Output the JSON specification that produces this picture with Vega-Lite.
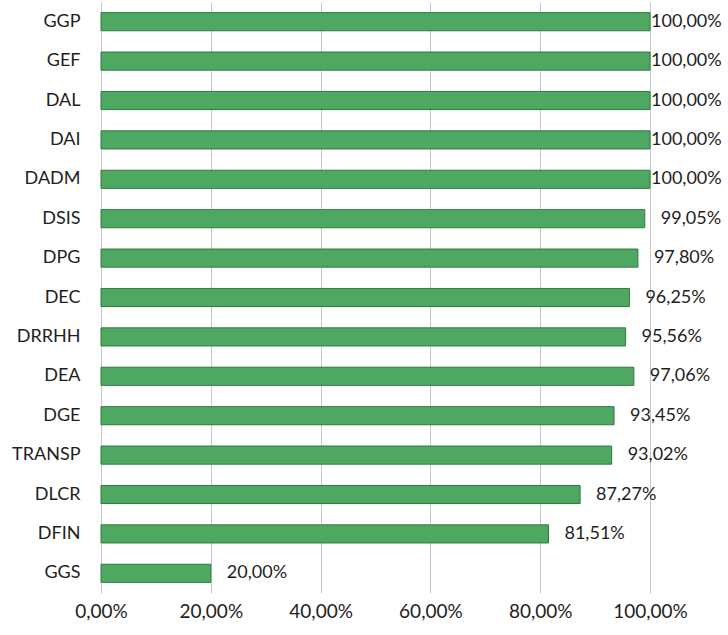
{
  "$schema": "https://vega.github.io/schema/vega-lite/v6.json",
  "width": 549,
  "height": 591,
  "autosize": {"type": "none"},
  "padding": {"left": 101, "top": 2, "right": 78, "bottom": 42},
  "background": "white",
  "config": {
    "view": {"stroke": null},
    "font": "Lato",
    "axis": {"labelFont": "Lato", "labelColor": "#1e1e1e"}
  },
  "data": {
    "values": [
      {"cat": "GGP", "v": 100},
      {"cat": "GEF", "v": 100},
      {"cat": "DAL", "v": 100},
      {"cat": "DAI", "v": 100},
      {"cat": "DADM", "v": 100},
      {"cat": "DSIS", "v": 99.05},
      {"cat": "DPG", "v": 97.8},
      {"cat": "DEC", "v": 96.25},
      {"cat": "DRRHH", "v": 95.56},
      {"cat": "DEA", "v": 97.06},
      {"cat": "DGE", "v": 93.45},
      {"cat": "TRANSP", "v": 93.02},
      {"cat": "DLCR", "v": 87.27},
      {"cat": "DFIN", "v": 81.51},
      {"cat": "GGS", "v": 20}
    ]
  },
  "encoding": {
    "y": {
      "field": "cat", "type": "nominal", "sort": null, "title": null,
      "scale": {"paddingInner": 0, "paddingOuter": 0},
      "axis": {"domain": false, "ticks": false, "labelFontSize": 18, "labelPadding": 21}
    },
    "x": {
      "field": "v", "type": "quantitative", "title": null,
      "scale": {"domain": [0, 100], "nice": false},
      "axis": {
        "values": [0, 20, 40, 60, 80, 100],
        "domain": false, "ticks": false,
        "grid": true, "gridColor": "#c8c8c8", "gridWidth": 1,
        "labelFontSize": 19, "labelPadding": 9,
        "labelOverlap": false, "labelBound": false, "labelFlush": false,
        "labelExpr": "replace(format(datum.value, '.2f'), '.', ',') + '%'"
      }
    }
  },
  "layer": [
    {
      "mark": {"type": "bar", "height": {"band": 0.46}, "fill": "#4fa862", "stroke": "#2f7a40", "strokeWidth": 1}
    },
    {
      "mark": {"type": "text", "align": "left", "baseline": "middle", "dx": 16, "fontSize": 18, "color": "#1e1e1e"},
      "encoding": {"text": {"field": "lbl"}},
      "transform": [
        {"filter": "datum.v < 100"},
        {"calculate": "replace(format(datum.v, '.2f'), '.', ',') + '%'", "as": "lbl"}
      ]
    },
    {
      "mark": {"type": "text", "align": "left", "baseline": "middle", "dx": 1, "fontSize": 18, "color": "#1e1e1e"},
      "encoding": {"text": {"field": "lbl"}},
      "transform": [
        {"filter": "datum.v >= 100"},
        {"calculate": "replace(format(datum.v, '.2f'), '.', ',') + '%'", "as": "lbl"}
      ]
    }
  ]
}
